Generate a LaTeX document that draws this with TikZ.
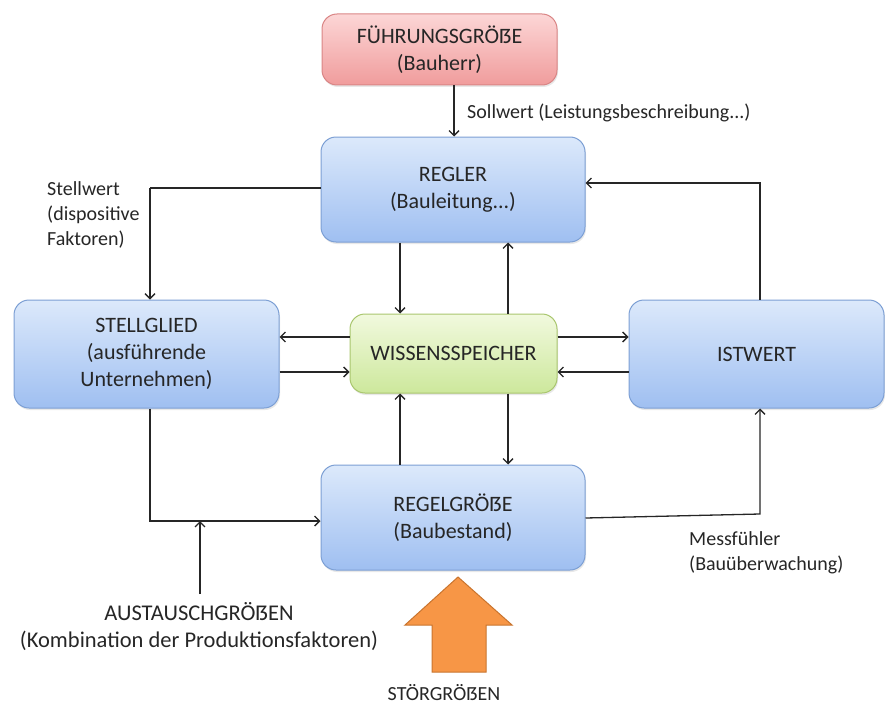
\documentclass[tikz,border=0pt]{standalone}
\usepackage{fontspec}
\setmainfont{Carlito}
\usetikzlibrary{arrows.meta,calc,shadows}
\definecolor{txt}{HTML}{262626}
\definecolor{blueTop}{HTML}{DCE9FB}
\definecolor{blueBot}{HTML}{9FBFF1}
\definecolor{blueLine}{HTML}{7C9FD4}
\definecolor{greenTop}{HTML}{F1F9DE}
\definecolor{greenBot}{HTML}{CDE89C}
\definecolor{greenLine}{HTML}{A9C66E}
\definecolor{redTop}{HTML}{FCD6D6}
\definecolor{redBot}{HTML}{F09C9C}
\definecolor{redLine}{HTML}{D98585}
\definecolor{orangeFill}{HTML}{F79646}
\definecolor{orangeLine}{HTML}{C9742E}
\tikzset{
  box/.style={rounded corners=15pt, line width=1pt, align=center,
    text=txt, inner sep=0pt, font=\fontsize{22}{27}\selectfont,
    drop shadow={shadow xshift=1pt, shadow yshift=-2pt, opacity=0.18}},
  bluebox/.style={box, draw=blueLine, top color=blueTop, bottom color=blueBot},
  greenbox/.style={box, draw=greenLine, top color=greenTop, bottom color=greenBot},
  redbox/.style={box, draw=redLine, top color=redTop, bottom color=redBot},
  flow/.style={line width=1.3pt, draw=black!85,
    -{Straight Barb[length=5pt,width=10pt,line width=1.3pt]}},
  plain/.style={line width=1.3pt, draw=black!85},
  lbl/.style={text=txt, inner sep=0pt, align=left, font=\fontsize{20}{25}\selectfont},
  biglbl/.style={text=txt, inner sep=0pt, align=center, font=\fontsize{22.5}{27}\selectfont},
}
\begin{document}
\begin{tikzpicture}[x=1pt,y=-1pt]
\useasboundingbox (0,0) rectangle (885,706);

% control loop elements
\node[redbox, minimum width=235pt, minimum height=71pt] (fg) at (439.5,49.5)
  {FÜHRUNGSGRÖẞE\\(Bauherr)};
\node[bluebox, minimum width=264pt, minimum height=105pt] (regler) at (453,189.5)
  {REGLER\\(Bauleitung...)};
\node[bluebox, minimum width=265pt, minimum height=108pt] (stell) at (146.5,354)
  {STELLGLIED\\(ausführende\\Unternehmen)};
\node[greenbox, minimum width=207pt, minimum height=79pt] (wiss) at (453.5,353.5)
  {WISSENSSPEICHER};
\node[bluebox, minimum width=255pt, minimum height=108pt] (ist) at (756.5,354)
  {ISTWERT};
\node[bluebox, minimum width=264pt, minimum height=105pt] (regel) at (453,517.5)
  {REGELGRÖẞE\\(Baubestand)};

% labels (placed by the baseline of their last line)
\node[lbl, anchor=base west] (soll) at (467,118) {Sollwert (Leistungsbeschreibung...)};
\node[lbl, anchor=base west] (stellw) at (47,245) {Stellwert\\(dispositive\\Faktoren)};
\node[lbl, anchor=base west] (mess) at (689,570) {Messfühler\\(Bauüberwachung)};
\node[biglbl, anchor=base] (aus) at (199,647)
  {AUSTAUSCHGRÖẞEN\\(Kombination der Produktionsfaktoren)};
\node[lbl, anchor=base] (stoer) at (444,700) {STÖRGRÖẞEN};

% helper points
\coordinate (sw) at (150,188);
\coordinate (iw) at (760,183);
\coordinate (sb) at (150,521);
\coordinate (ab) at (200,521);
\coordinate (at) at (200,594);
\coordinate (mb) at (760,514);

% connectors
\draw[flow] (fg.south -| 454,0) -- (regler.north -| 454,0);
\draw[plain] (regler.west |- sw) -- (sw);
\draw[flow] (sw) -- (stell.north -| sw);
\draw[flow] (regler.south -| 400,0) -- (wiss.north -| 400,0);
\draw[flow] (wiss.north -| 508,0) -- (regler.south -| 508,0);
\draw[flow] (wiss.west |- 0,337) -- (stell.east |- 0,337);
\draw[flow] (stell.east |- 0,372) -- (wiss.west |- 0,372);
\draw[flow] (wiss.east |- 0,337) -- (ist.west |- 0,337);
\draw[flow] (ist.west |- 0,372) -- (wiss.east |- 0,372);
\draw[flow] (regel.north -| 400,0) -- (wiss.south -| 400,0);
\draw[flow] (wiss.south -| 508,0) -- (regel.north -| 508,0);
\draw[flow] (ist.north -| iw) -- (iw) -- (regler.east |- iw);
\draw[flow] (stell.south -| sb) -- (sb) -- (regel.west |- sb);
\draw[flow] (at) -- (ab);
\draw[flow] (regel.east |- 0,518) -- (mb) -- (ist.south -| mb);

% disturbance arrow
\draw[line width=1pt, draw=orangeLine, fill=orangeFill, line join=miter]
  (458,577) -- (512,625) -- (486,625) -- (486,672) -- (432,672) -- (432,625)
  -- (405,625) -- cycle;
\end{tikzpicture}
\end{document}
